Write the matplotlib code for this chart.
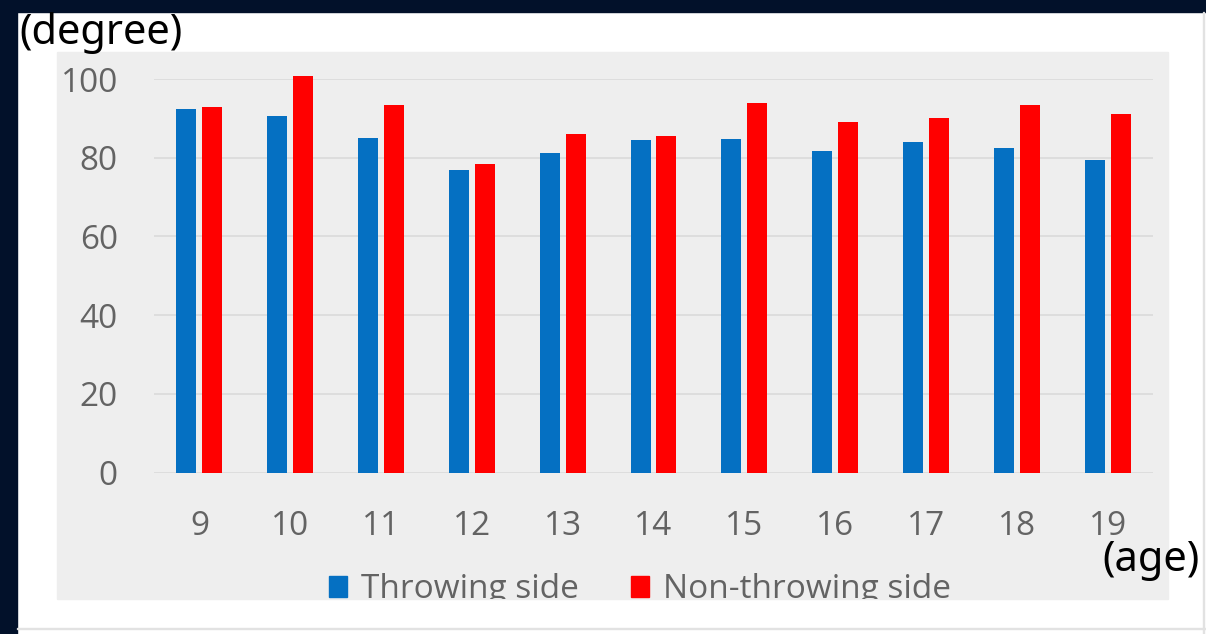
import matplotlib
matplotlib.use("Agg")
import matplotlib.pyplot as plt
from matplotlib.patches import Rectangle, Patch
import numpy as np

ages = ["9", "10", "11", "12", "13", "14", "15", "16", "17", "18", "19"]
throwing = [92.5, 90.5, 85.1, 76.9, 81.2, 84.4, 84.8, 81.6, 84.0, 82.4, 79.3]
non_throwing = [92.8, 100.7, 93.3, 78.4, 85.9, 85.4, 93.8, 89.0, 90.2, 93.3, 91.0]
series_names = ["Throwing side", "Non-throwing side"]
yticks = [0, 20, 40, 60, 80, 100]

W, H = 1206, 634
BLUE = "#0570c2"
RED = "#ff0000"
TICK_GRAY = "#636363"

plt.rcParams["font.family"] = ["Open Sans", "DejaVu Sans"]


def px(x, y):
    # pixel (from top-left) -> figure fraction
    return x / W, 1 - y / H


fig = plt.figure(figsize=(W / 100, H / 100), dpi=100, facecolor="white")

# dark frame on top / left, white page, gray chart area (behind the axes)
fig.patches.append(Rectangle(px(0, 12), 1, 12 / H, transform=fig.transFigure,
                             color="#02112a", zorder=-10))
fig.patches.append(Rectangle(px(0, H), 17 / W, 1, transform=fig.transFigure,
                             color="#02112a", zorder=-10))
fig.patches.append(Rectangle(px(1203, H), 1.2 / W, (H - 12) / H, transform=fig.transFigure,
                             color="#e2e2e2", zorder=-10))
fig.patches.append(Rectangle(px(17, 629), 1, 1.5 / H, transform=fig.transFigure,
                             color="#e2e2e2", zorder=-10))
chart_bg = Rectangle(px(57, 599), (1168 - 57) / W, (599 - 52) / H,
                     transform=fig.transFigure, color="#eeeeee", zorder=-10)
fig.patches.append(chart_bg)

x0, x1 = 154, 1153
y_top, y_zero = 79, 472.5
ax = fig.add_axes([x0 / W, 1 - y_zero / H, (x1 - x0) / W, (y_zero - y_top) / H])
ax.set_facecolor("none")

x = np.arange(len(ages))
bw = 0.22
off = 0.143
ax.bar(x - off, throwing, bw, color=BLUE, clip_on=False, zorder=3)
ax.bar(x + off, non_throwing, bw, color=RED, clip_on=False, zorder=3)

ax.set_xlim(-0.5, len(ages) - 0.5)
ax.set_ylim(0, 100)
ax.set_yticks(yticks)
ax.set_xticks(x)
ax.set_xticklabels(ages)
ax.tick_params(length=0, labelsize=24, labelcolor=TICK_GRAY)
ax.tick_params(axis="y", pad=26)
ax.tick_params(axis="x", pad=27)
ax.yaxis.grid(True, color="#dadada", lw=1.2, zorder=0)
ax.set_axisbelow(True)
for s in ax.spines.values():
    s.set_visible(False)

handles = [Patch(color=BLUE), Patch(color=RED)]
leg = fig.legend(handles, series_names, loc="center",
                 bbox_to_anchor=px(640, 590), ncol=2, frameon=False,
                 fontsize=24, labelcolor=TICK_GRAY, handlelength=0.56,
                 handleheight=0.6, handletextpad=0.42, columnspacing=1.55,
                 borderpad=0, borderaxespad=0)
for t in leg.get_texts():
    t.set_clip_path(chart_bg)
for h in leg.legend_handles:
    h.set_clip_path(chart_bg)

fig.text(*px(19, 33), "(degree)", fontsize=30, family=["Noto Sans", "DejaVu Sans"],
         color="black", va="center", ha="left")
fig.text(*px(1200, 560), "(age)", fontsize=30, family=["Noto Sans", "DejaVu Sans"],
         color="black", va="center", ha="right")

fig.savefig("out.png", dpi=100, facecolor=fig.get_facecolor())
